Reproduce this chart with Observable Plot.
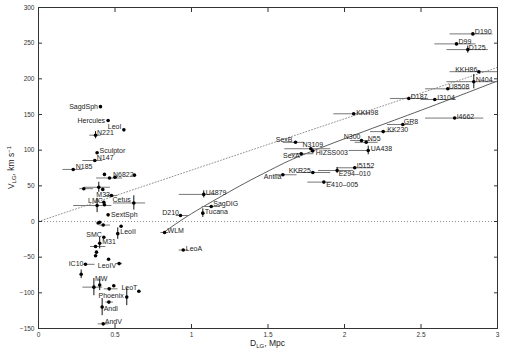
<!DOCTYPE html>
<html>
<head>
<meta charset="utf-8">
<script src="https://cdn.jsdelivr.net/npm/d3@7"></script>
<script src="https://cdn.jsdelivr.net/npm/@observablehq/plot@0.6"></script>
<style>
  html, body { margin: 0; padding: 0; background: #fff; }
</style>
</head>
<body>
<div id="chart"></div>
<script>
// ---------- data ----------
const names = [
  "SagdSph","Hercules","LeoI","N221","Sculptor","N147","N185","N6822","M33","LMC",
  "Cetus","SextSph","LeoII","SMC","M31","LeoIV","IC10","MW","LeoT","Phoenix",
  "AndI","AndV","U4879","SagDIG","Tucana","D210","WLM","LeoA","Antlia","KKR25",
  "E294–010","I5152","E410–005","SexA","SexB","N3109","HIZSS003","N300","N55","UA438",
  "KK230","GR8","KKH98","D187","I3104","U8508","N404","KKH86","I4662","D190",
  "D99","D125",
  "","","","","","","","","","",
  "","","","","","","","","","",
  ""
];
const dist = [
  0.405,0.455,0.558,0.373,0.383,0.368,0.227,0.500,0.477,0.427,
  0.623,0.455,0.518,0.427,0.400,0.527,0.307,0.400,0.656,0.577,
  0.416,0.423,1.080,1.129,1.074,0.928,0.824,0.946,1.597,1.793,
  1.952,2.067,1.865,1.717,1.680,1.780,1.792,2.111,2.142,2.155,
  2.253,2.381,2.060,2.420,2.590,2.675,2.845,2.878,2.720,2.839,
  2.732,2.806,
  0.431,0.464,0.627,0.296,0.394,0.420,0.431,0.383,0.390,0.400,
  0.423,0.540,0.373,0.379,0.373,0.458,0.279,0.362,0.462,0.492,
  0.460
];
const vel = [
  161,141.6,128.5,121,96.3,85.5,73,62,36.5,27,
  26,9.3,-17,-22,-30.4,-59,-60,-89,-97.7,-106,
  -120,-143.5,38,21,11.7,8.4,-15.4,-40,65.5,68.7,
  71.5,75.3,55.2,95,111,102,99,113.6,111,99.6,
  126,136,151,172.5,171,186,196,210,145,263,
  249,241,
  66,61,65,46,48,45,23.4,22.4,-2,-1,
  -5,-6.6,-35,-43,-48,-53,-74,-92,-94.4,-90,
  -113
];
// horizontal error bar ends (null = none)
const distLo = [
  null,null,null,0.335,null,0.29,0.16,null,0.44,null,
  0.49,null,null,null,null,0.51,0.30,null,null,null,
  null,0.39,0.92,1.07,null,0.90,0.80,0.92,1.55,1.69,
  1.83,1.95,1.76,1.65,1.60,1.61,null,2.04,2.07,2.03,
  2.17,2.28,1.93,2.30,2.50,2.53,2.67,2.69,2.53,2.69,
  2.59,2.67,
  null,0.38,null,0.27,0.30,null,null,0.23,null,null,
  0.40,null,0.34,null,null,null,null,0.29,0.43,null,
  0.44
];
const distHi = [
  null,null,null,0.41,null,0.42,0.29,null,0.52,null,
  0.70,null,null,null,null,0.55,0.37,null,null,null,
  null,0.46,1.16,1.19,null,0.98,0.85,0.98,1.69,1.91,
  2.06,2.19,1.92,1.80,1.74,1.91,null,2.17,2.22,2.17,
  2.33,2.45,2.17,2.55,2.73,2.82,3.05,3.10,2.91,2.97,
  2.86,2.94,
  null,0.55,null,0.36,0.47,null,null,0.48,null,null,
  0.47,null,0.44,null,null,null,null,0.42,0.52,null,
  0.49
];
// vertical error half-length (0 = none)
const velErr = [
  0,0,0,5,0,0,0,0,0,0,
  10,0,8,0,8,0,0,8,0,12,
  12,0,5,0,6,0,0,0,0,0,
  4,0,0,0,0,0,0,0,0,6,
  0,0,0,0,0,0,10,0,0,0,
  0,5,
  0,0,0,0,7,0,0,10,0,0,
  0,0,0,0,0,0,6,12,0,0,
  0
];
// solid curve
const curveD = [0.82, 0.90, 1.00, 1.135, 1.25, 1.386, 1.55, 1.712, 2.00, 2.25, 2.60, 3.00];
const curveV = [-15, -3, 11, 28, 42, 58, 76, 92, 116, 136, 164, 197];
// dotted line from the origin
const dotD = [0, 3];
const dotV = [0, 216];
const xTicks = [0, 0.5, 1, 1.5, 2, 2.5, 3];
const yTicks = [-150, -100, -50, 0, 50, 100, 150, 200, 250, 300];

// ---------- label placement (style, not data) ----------
const place = {
  "SagdSph":["end",-2.5,0], "Hercules":["end",-3,0], "LeoI":["end",-2.5,-3],
  "N221":["start",1.5,-2], "Sculptor":["start",2.5,-2], "N147":["start",2,-2.5],
  "N185":["start",2.5,-3], "N6822":["start",-2,-3], "M33":["end",-1.5,-1],
  "LMC":["end",-1,-1.5], "Cetus":["end",-3,-3], "SextSph":["start",3,0],
  "LeoII":["start",2.5,-1.5], "SMC":["end",-2,-2.5], "M31":["start",2.5,-1.5],
  "LeoIV":["end",-3,2.5], "IC10":["end",-2,-1], "MW":["middle",1.5,-6],
  "LeoT":["end",-1.5,-3], "Phoenix":["end",-3,-1], "AndI":["start",1.5,2],
  "AndV":["start",1.5,-2.5], "U4879":["start",2,-1.5], "SagDIG":["start",2,-3],
  "Tucana":["start",2,-1.5], "D210":["end",-1.5,-2.5], "WLM":["start",3,-2],
  "LeoA":["start",2.5,-1], "Antlia":["end",-1.5,2], "KKR25":["end",-2,-2],
  "E294–010":["start",1.5,3], "I5152":["start",2,-2.5], "E410–005":["start",2.5,3],
  "SexA":["end",-1.5,2.5], "SexB":["end",-3,-3], "N3109":["middle",2,-4],
  "HIZSS003":["start",3,1.5], "N300":["end",-1,-4], "N55":["start",1.5,-4],
  "UA438":["start",2.5,-1.5], "KK230":["start",4,-1.5], "GR8":["start",1,-2.5],
  "KKH98":["start",2.5,-1], "D187":["start",2,-1.5], "I3104":["start",2.5,-2],
  "U8508":["start",1,-2.5], "N404":["start",2,-2], "KKH86":["end",-1.5,-1.5],
  "I4662":["start",2,-1.5], "D190":["start",2,-2.5], "D99":["start",2,-2],
  "D125":["start",1,-2]
};

// ---------- build tables ----------
const pts = names.map((n, i) => ({name: n, d: dist[i], v: vel[i], lo: distLo[i], hi: distHi[i], ve: velErr[i]}));
const hBars = pts.filter(p => p.lo != null);
const vBars = pts.filter(p => p.ve > 0);
const labeled = pts.filter(p => p.name !== "");
const curve = curveD.map((d, i) => ({d, v: curveV[i]}));
const dotted = dotD.map((d, i) => ({d, v: dotV[i]}));

const font = "Liberation Sans, Arial, Helvetica, sans-serif";
const fmt = d => String(d).replace("-", "\u2212");

const labelMarks = labeled.map(p => {
  const [anchor, dx, dy] = place[p.name] || ["start", 2, 0];
  return Plot.text([p], {x: "d", y: "v", text: "name", textAnchor: anchor, dx, dy,
    fontSize: 7, fill: "#222"});
});

const chart = Plot.plot({
  width: 513, height: 352,
  marginLeft: 38, marginRight: 16, marginTop: 7, marginBottom: 24,
  x: {domain: [0, 3]},
  y: {domain: [-150, 300]},
  style: {fontFamily: font, background: "#fff", overflow: "visible"},
  marks: [
    Plot.ruleY([0], {stroke: "#777", strokeDasharray: "1,2", strokeWidth: 0.8}),
    Plot.line(dotted, {x: "d", y: "v", stroke: "#777", strokeDasharray: "1,2", strokeWidth: 0.8}),
    Plot.line(curve, {x: "d", y: "v", stroke: "#333", strokeWidth: 0.8, curve: "natural"}),
    Plot.ruleY(hBars, {y: "v", x1: "lo", x2: "hi", stroke: "#777", strokeWidth: 1, clip: true}),
    Plot.ruleX(vBars, {x: "d", y1: p => p.v - p.ve, y2: p => p.v + p.ve, stroke: "#111", strokeWidth: 1}),
    Plot.dot(pts, {x: "d", y: "v", r: 1.8, fill: "#000", stroke: null}),
    ...labelMarks,
    Plot.axisX(xTicks, {anchor: "bottom", tickSize: 0, tickPadding: 4, fontSize: 6.5, label: null, tickFormat: fmt, color: "#333"}),
    Plot.axisY(yTicks, {anchor: "left", tickSize: 0, tickPadding: 4, fontSize: 6.5, label: null, tickFormat: fmt, color: "#333"}),
    Plot.axisX(xTicks, {anchor: "bottom", tickSize: -4, tickFormat: () => "", label: null, stroke: "#333"}),
    Plot.axisX(xTicks, {anchor: "top", tickSize: -4, tickFormat: () => "", label: null, stroke: "#333"}),
    Plot.axisY(yTicks, {anchor: "left", tickSize: -4, tickFormat: () => "", label: null, stroke: "#333"}),
    Plot.axisY(yTicks, {anchor: "right", tickSize: -4, tickFormat: () => "", label: null, stroke: "#333"}),
    Plot.frame({stroke: "#333", strokeWidth: 1})
  ]
});
document.getElementById("chart").appendChild(chart);

// axis titles with sub/superscripts
const svg = d3.select(chart);
const xs = chart.scale("x"), ys = chart.scale("y");
const cx = (xs.range[0] + xs.range[1]) / 2;
const cy = (ys.range[0] + ys.range[1]) / 2;
const xt = svg.append("text").attr("x", cx).attr("y", 346).attr("text-anchor", "middle")
  .attr("font-family", font).attr("font-size", 8.5).attr("fill", "#222");
xt.append("tspan").text("D");
xt.append("tspan").attr("dy", 2).attr("font-size", 6).text("LG");
xt.append("tspan").attr("dy", -2).text(", Mpc");
const yt = svg.append("text").attr("transform", `translate(14,${cy}) rotate(-90)`).attr("text-anchor", "middle")
  .attr("font-family", font).attr("font-size", 8.5).attr("fill", "#222");
yt.append("tspan").text("V");
yt.append("tspan").attr("dy", 2).attr("font-size", 6).text("LG");
yt.append("tspan").attr("dy", -2).text(", km s");
yt.append("tspan").attr("dy", -3).attr("font-size", 6).text("\u22121");
</script>
</body>
</html>
